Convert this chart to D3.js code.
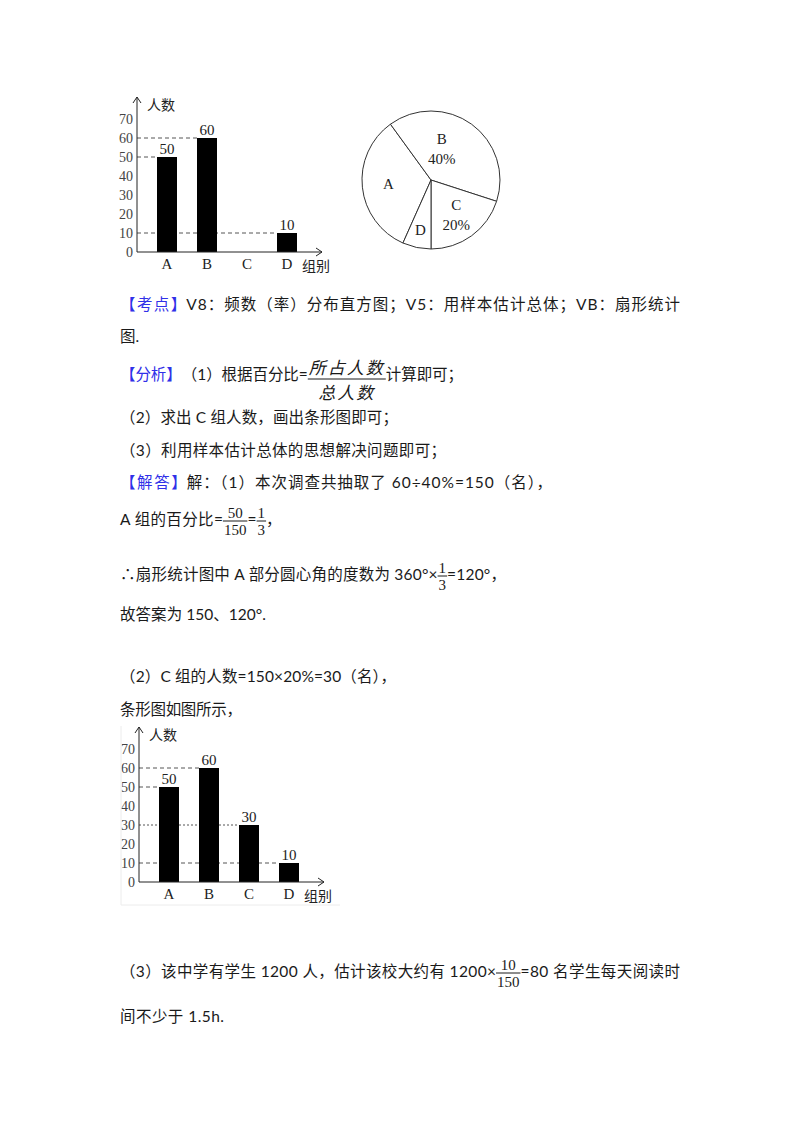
<!DOCTYPE html>
<html>
<head>
<meta charset="utf-8">
<script src="https://cdn.jsdelivr.net/npm/d3@7"></script>
<style>
  body { margin: 0; background: #fff; }
  .doc { font-family: "Lato", "Noto Sans CJK SC", sans-serif; font-size: 15.5px; fill: #1a1a1a; }
  .blue { fill: #3030e8; font-family: "Noto Sans CJK SC", sans-serif; }
  .serif { font-family: "Liberation Serif", "DejaVu Serif", serif; }
  .cjk { font-family: "Noto Sans CJK SC", sans-serif; }
</style>
</head>
<body>
<div id="page"></div>
<script>
// chart data
var groups = ["A", "B", "C", "D"];
var countsGiven = [50, 60, 0, 10];     // first bar chart, C is missing
var countsFull = [50, 60, 30, 10];     // completed bar chart
var yTicks = [0, 10, 20, 30, 40, 50, 60, 70];
var pieShare = ["", "40%", "20%", ""];
var addedGroup = "C";

var w = 800, h = 1132;

var svg = d3.select("#page")
  .append("svg")
    .attr("width", w)
    .attr("height", h);

svg.append("rect")
    .attr("width", w)
    .attr("height", h)
    .attr("fill", "white");

// bar chart
function barChart(values, ox, base, showAdded) {
  var g = svg.append("g");

  var yScale = d3.scaleLinear()
      .domain([0, 70])
      .range([base, base - 133]);

  var xScale = d3.scaleBand()
      .domain(groups)
      .range([ox + 10, ox + 170])
      .paddingInner(0.5)
      .paddingOuter(0.25);

  var yAxis = d3.axisLeft(yScale)
      .tickValues(yTicks)
      .tickSize(0)
      .tickPadding(4);

  var ax = g.append("g")
      .attr("transform", `translate(${ox},0)`)
      .call(yAxis);
  ax.select(".domain").remove();
  ax.selectAll("text")
      .attr("class", "serif")
      .attr("font-size", "14px")
      .attr("fill", "#444");

  // guide lines
  var data = groups.map((k, i) => ({k: k, v: values[i]})).filter(d => d.v > 0);

  g.selectAll(".guide")
    .data(data)
    .enter().append("line")
      .attr("x1", ox)
      .attr("x2", d => xScale(d.k))
      .attr("y1", d => yScale(d.v))
      .attr("y2", d => yScale(d.v))
      .attr("stroke", "#555")
      .attr("stroke-width", 1)
      .attr("stroke-dasharray", d => (showAdded && d.k == addedGroup) ? "2,2" : "4,3");

  g.selectAll(".bar")
    .data(data)
    .enter().append("rect")
      .attr("x", d => xScale(d.k))
      .attr("y", d => yScale(d.v))
      .attr("width", xScale.bandwidth())
      .attr("height", d => base - yScale(d.v))
      .attr("fill", "#000");

  g.selectAll(".val")
    .data(data)
    .enter().append("text")
      .attr("class", "serif")
      .attr("font-size", "15px")
      .attr("fill", "#222")
      .attr("text-anchor", "middle")
      .attr("x", d => xScale(d.k) + xScale.bandwidth() / 2)
      .attr("y", d => yScale(d.v) - 3)
      .text(d => d.v);

  // axes with open arrows
  var top = base - 155, right = ox + 185;
  g.append("path")
      .attr("d", `M${ox},${base}V${top}M${ox - 4},${top + 6}L${ox},${top}L${ox + 4},${top + 6}` +
                 `M${ox},${base}H${right}M${right - 6},${base - 4}L${right},${base}L${right - 6},${base + 4}`)
      .attr("fill", "none")
      .attr("stroke", "#222")
      .attr("stroke-width", 1);

  g.selectAll(".xl")
    .data(groups)
    .enter().append("text")
      .attr("class", "serif")
      .attr("font-size", "15px")
      .attr("fill", "#222")
      .attr("text-anchor", "middle")
      .attr("x", d => xScale(d) + xScale.bandwidth() / 2)
      .attr("y", base + 17)
      .text(d => d);

  g.append("text")
      .attr("class", "cjk")
      .attr("font-size", "14px")
      .attr("fill", "#222")
      .attr("x", ox + 10)
      .attr("y", top + 13)
      .text("人数");

  g.append("text")
      .attr("class", "cjk")
      .attr("font-size", "14px")
      .attr("fill", "#222")
      .attr("x", right - 20)
      .attr("y", base + 19)
      .text("组别");
}

barChart(countsGiven, 137, 252, false);
barChart(countsFull, 139, 882, true);

// faint frame of the pasted picture
svg.append("path")
    .attr("d", "M121,726V905H340")
    .attr("fill", "none")
    .attr("stroke", "#ececec");

// pie chart
var cx = 431, cy = 180, r = 69;

var pie = d3.pie()
    .sort(null)
    .startAngle(-156 * Math.PI / 180)
    .endAngle(204 * Math.PI / 180);

var arc = d3.arc().innerRadius(0).outerRadius(r);

var slices = pie(countsFull);

var pg = svg.append("g")
    .attr("transform", `translate(${cx},${cy})`);

pg.selectAll("path")
  .data(slices)
  .enter().append("path")
    .attr("d", arc)
    .attr("fill", "white")
    .attr("stroke", "#333")
    .attr("stroke-width", 1);

function labelPos(d) {
  var span = d.endAngle - d.startAngle;
  var lr = span > 2.2 ? r * 0.48 : span > 0.5 ? r * 0.62 : r * 0.74;
  // pull the wide B label a little toward the top
  var a = span > 2.4 ? d.startAngle + span * 0.38 : (d.startAngle + d.endAngle) / 2;
  return [Math.sin(a) * lr, -Math.cos(a) * lr];
}

var lab = pg.selectAll(".pl")
  .data(slices)
  .enter().append("text")
    .attr("class", "serif")
    .attr("font-size", "15px")
    .attr("fill", "#222")
    .attr("text-anchor", "middle")
    .attr("transform", d => `translate(${labelPos(d)})`);

lab.append("tspan")
    .attr("x", 0)
    .attr("y", (d, i) => pieShare[i] ? -5 : 5)
    .text((d, i) => groups[i]);

lab.append("tspan")
    .attr("x", 0)
    .attr("y", 15)
    .text((d, i) => pieShare[i]);

// text of the solution
var left = 120;

var lines = [
  {y: 305, fit: 560, parts: [{t: "【考点】", c: "blue"}, {t: "V8：频数（率）分布直方图；V5：用样本估计总体；VB：扇形统计"}]},
  {y: 337, parts: [{t: "图."}]},
  {y: 375, fit: 343, parts: [{t: "【分析】", c: "blue"}, {t: "（1）根据百分比="}, {num: "所占人数", den: "总人数", it: true}, {t: "计算即可；"}]},
  {y: 418, fit: 278, parts: [{t: "（2）求出 C 组人数，画出条形图即可；"}]},
  {y: 451, fit: 326, parts: [{t: "（3）利用样本估计总体的思想解决问题即可；"}]},
  {y: 483, fit: 432, parts: [{t: "【解答】", c: "blue"}, {t: "解：（1）本次调查共抽取了 60÷40%=150（名），"}]},
  {y: 520, fit: 162, parts: [{t: "A 组的百分比="}, {num: "50", den: "150"}, {t: "="}, {num: "1", den: "3"}, {t: "，"}]},
  {y: 575, fit: 386, parts: [{t: "∴扇形统计图中 A 部分圆心角的度数为 360°×"}, {num: "1", den: "3"}, {t: "=120°，"}]},
  {y: 615, fit: 146, parts: [{t: "故答案为 150、120°."}]},
  {y: 677, fit: 276, parts: [{t: "（2）C 组的人数=150×20%=30（名），"}]},
  {y: 710, fit: 122, parts: [{t: "条形图如图所示，"}]},
  {y: 972, fit: 560, parts: [{t: "（3）该中学有学生 1200 人，估计该校大约有 1200×"}, {num: "10", den: "150"}, {t: "=80 名学生每天阅读时"}]},
  {y: 1017, fit: 104, parts: [{t: "间不少于 1.5h."}]}
];

lines.forEach(function(line) {
  var g = svg.append("g").attr("class", "doc");
  var base = line.y + 5;
  var items = [];

  line.parts.forEach(function(p) {
    if (p.num) {
      var f = g.append("g");
      var size = p.it ? 17 : 15;
      var n = f.append("text")
          .attr("class", p.it ? "cjk" : "serif")
          .attr("font-size", size + "px")
          .attr("font-style", p.it ? "italic" : null)
          .attr("letter-spacing", p.it ? "2px" : null)
          .attr("text-anchor", "middle")
          .text(p.num);
      var d = f.append("text")
          .attr("class", p.it ? "cjk" : "serif")
          .attr("font-size", size + "px")
          .attr("font-style", p.it ? "italic" : null)
          .attr("letter-spacing", p.it ? "2px" : null)
          .attr("text-anchor", "middle")
          .text(p.den);
      var fw = Math.max(n.node().getComputedTextLength(), d.node().getComputedTextLength()) + 2;
      items.push({kind: "frac", w: fw, n: n, d: d, g: f, it: p.it});
    } else {
      var t = g.append("text")
          .attr("class", p.c || null)
          .attr("y", base)
          .text(p.t);
      items.push({kind: "text", w: t.node().getComputedTextLength(), node: t});
    }
  });

  var textW = d3.sum(items.filter(d => d.kind == "text"), d => d.w);
  var fracW = d3.sum(items.filter(d => d.kind == "frac"), d => d.w);
  var k = line.fit ? (line.fit - fracW) / textW : 1;

  var x = left;
  items.forEach(function(it) {
    if (it.kind == "text") {
      var tw = it.w * k;
      it.node.attr("x", x);
      if (line.fit) it.node.attr("textLength", tw).attr("lengthAdjust", "spacing");
      x += tw;
    } else {
      var bar = it.it ? base - 1 : base - 4;
      var mid = x + it.w / 2;
      it.n.attr("x", mid).attr("y", it.it ? bar - 5 : bar - 3);
      it.d.attr("x", mid).attr("y", it.it ? bar + 20 : bar + 14);
      it.g.append("line")
          .attr("x1", x).attr("x2", x + it.w)
          .attr("y1", bar).attr("y2", bar)
          .attr("stroke", "#1a1a1a")
          .attr("stroke-width", 1);
      x += it.w;
    }
  });
});
</script>
</body>
</html>
